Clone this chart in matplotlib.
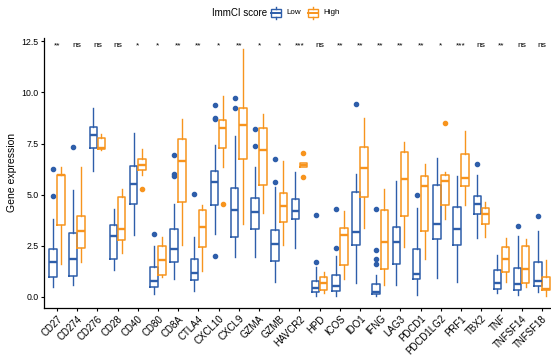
import matplotlib
matplotlib.use("Agg")
import matplotlib.pyplot as plt
from matplotlib.patches import Rectangle
from matplotlib.lines import Line2D

plt.rcParams['font.family'] = ['Liberation Sans', 'DejaVu Sans']

genes = ['CD27', 'CD274', 'CD276', 'CD28', 'CD40', 'CD80', 'CD8A', 'CTLA4',
         'CXCL10', 'CXCL9', 'GZMA', 'GZMB', 'HAVCR2', 'HPD', 'ICOS', 'IDO1',
         'IFNG', 'LAG3', 'PDCD1', 'PDCD1LG2', 'PRF1', 'TBX2', 'TNF',
         'TNFSF14', 'TNFSF18']
signif = ['**', 'ns', 'ns', 'ns', '*', '*', '**', '**', '*', '**', '*', '*',
          '***', 'ns', '**', '**', '**', '**', '**', '*', '***', 'ns', '**',
          'ns', 'ns']

# Low group: q1, median, q3, whisker low, whisker high
low_q1 = [0.97, 1.02, 7.26, 1.82, 4.56, 0.45, 1.70, 0.80, 4.51, 2.93, 3.32, 1.75, 3.78,
          0.24, 0.27, 2.55, 0.12, 1.62, 0.85, 2.80, 2.55, 4.04, 0.35, 0.32, 0.51]
low_med = [1.67, 1.82, 7.91, 2.98, 5.51, 0.77, 2.32, 1.16, 5.59, 4.24, 4.14, 2.60, 4.20,
           0.43, 0.53, 3.17, 0.22, 2.65, 1.13, 3.55, 3.30, 4.53, 0.65, 0.61, 0.78]
low_q3 = [2.32, 3.13, 8.32, 3.50, 6.39, 1.43, 3.30, 1.82, 6.16, 5.33, 4.81, 3.26, 4.76,
          0.78, 1.05, 5.10, 0.60, 3.42, 2.32, 5.49, 4.40, 4.92, 1.30, 1.38, 1.71]
low_lo = [0.48, 0.56, 6.16, 1.30, 3.04, 0.12, 0.84, 0.28, 3.09, 1.95, 1.95, 0.72, 2.36,
          0.04, 0.04, 0.65, 0.02, 0.56, 0.07, 0.89, 0.69, 2.85, 0.16, 0.07, 0.24]
low_hi = [3.78, 5.22, 9.25, 4.28, 8.03, 2.49, 4.56, 2.93, 7.42, 7.88, 6.36, 5.38, 6.11,
          1.43, 2.00, 6.03, 1.05, 5.66, 4.32, 6.80, 5.92, 5.95, 2.03, 2.96, 3.20]
low_out = [[4.94, 6.26], [7.34], [], [], [], [3.06], [5.92, 6.03, 6.93], [5.05],
           [1.98, 8.68, 8.75, 9.40], [9.25, 9.74], [7.37, 8.21], [5.59, 6.74], [],
           [1.70, 3.99], [2.36, 4.27], [9.42], [1.62, 1.82, 2.28, 4.27], [], [4.97],
           [], [], [6.49], [], [3.47], [3.96]]

# High group
high_q1 = [3.53, 2.36, 7.23, 2.77, 6.20, 1.05, 4.61, 2.41, 7.26, 6.74, 5.46, 3.63, 6.36,
           0.32, 1.54, 4.89, 1.34, 3.94, 3.21, 4.48, 5.41, 3.55, 1.19, 0.68, 0.30]
high_med = [5.95, 3.21, 7.26, 3.30, 6.46, 1.79, 6.64, 3.39, 8.24, 8.40, 7.16, 4.43, 6.46,
            0.65, 3.01, 6.31, 2.68, 5.76, 5.41, 5.66, 5.79, 4.04, 1.84, 1.35, 0.37]
high_q3 = [5.98, 3.96, 7.78, 4.89, 6.72, 2.49, 7.72, 4.24, 8.65, 9.22, 8.27, 5.09, 6.56,
           0.97, 3.37, 7.34, 4.24, 7.06, 5.92, 5.95, 6.97, 4.35, 2.44, 2.49, 0.94]
high_lo = [1.59, 1.67, 7.20, 2.14, 5.95, 0.97, 2.55, 1.26, 6.36, 3.55, 4.11, 2.55, 6.36,
           0.19, 0.84, 3.37, 0.56, 2.41, 1.83, 3.78, 4.48, 2.90, 0.73, 0.48, 0.05]
high_hi = [6.33, 6.33, 7.95, 5.25, 7.21, 2.93, 8.68, 4.48, 9.84, 12.13, 8.94, 6.65, 6.56,
           1.18, 4.19, 8.76, 5.25, 7.59, 6.49, 6.08, 8.11, 4.64, 2.85, 2.80, 1.78]
high_out = [[], [], [], [], [5.28], [], [], [], [4.56], [], [], [], [5.87, 7.05],
            [], [], [], [], [], [], [8.49], [], [], [], [], []]

c_low = '#2E5EAA'
c_high = '#F7941E'


def make_stats(q1, med, q3, lo, hi, out):
    return [dict(q1=a, med=b, q3=c, whislo=d, whishi=e, fliers=f)
            for a, b, c, d, e, f in zip(q1, med, q3, lo, hi, out)]


def draw_group(ax, stats, pos, color):
    ax.bxp(stats, positions=pos, widths=0.37, manage_ticks=False,
           showcaps=False, patch_artist=False,
           boxprops=dict(color=color, linewidth=1.1),
           whiskerprops=dict(color=color, linewidth=1.0),
           medianprops=dict(color=color, linewidth=1.7),
           flierprops=dict(marker='o', markersize=3.0, markerfacecolor=color,
                           markeredgecolor=color, linestyle='none'))


fig = plt.figure(figsize=(5.51, 3.63), dpi=100)
ax = fig.add_axes([44 / 551, 1 - 308 / 363, 1 - 44 / 551, (308 - 38) / 363])

x = list(range(len(genes)))
draw_group(ax, make_stats(low_q1, low_med, low_q3, low_lo, low_hi, low_out),
           [i - 0.2 for i in x], c_low)
draw_group(ax, make_stats(high_q1, high_med, high_q3, high_lo, high_hi, high_out),
           [i + 0.2 for i in x], c_high)

for i, s in enumerate(signif):
    ax.text(i, 12.22, s, ha='center', va='baseline', fontsize=6)

ax.set_xlim(-0.64, 24.45)
ax.set_ylim(-0.56, 12.67)
ax.set_xticks(x)
ax.set_xticklabels(genes, rotation=45, ha='right', rotation_mode='anchor', fontsize=7)
ax.set_yticks([0, 2.5, 5, 7.5, 10, 12.5])
ax.set_yticklabels(['0.0', '2.5', '5.0', '7.5', '10.0', '12.5'], fontsize=6.3)
ax.set_ylabel('Gene expression', fontsize=7.5, labelpad=3)
ax.tick_params(length=2.5, width=0.8, pad=1.5)
for side in ['top', 'right']:
    ax.spines[side].set_visible(False)
for side in ['left', 'bottom']:
    ax.spines[side].set_linewidth(0.9)

# legend drawn at the top
W, H = 551.0, 363.0
fig.text(267 / W, 1 - 13 / H, 'ImmCI score', ha='right', va='center', fontsize=7)
for x0, col, lab in [(271, c_low, 'Low'), (308, c_high, 'High')]:
    fig.add_artist(Rectangle((x0 / W, 1 - 17 / H), 10 / W, 8 / H, fill=False,
                             edgecolor=col, linewidth=1.0, transform=fig.transFigure))
    fig.add_artist(Line2D([x0 / W, (x0 + 10) / W], [1 - 13 / H, 1 - 13 / H],
                          color=col, linewidth=1.4, transform=fig.transFigure))
    fig.add_artist(Line2D([(x0 + 5) / W] * 2, [1 - 7 / H, 1 - 9 / H],
                          color=col, linewidth=1.0, transform=fig.transFigure))
    fig.add_artist(Line2D([(x0 + 5) / W] * 2, [1 - 17 / H, 1 - 19 / H],
                          color=col, linewidth=1.0, transform=fig.transFigure))
    fig.text((x0 + 15) / W, 1 - 13 / H, lab, ha='left', va='center', fontsize=5.8)

fig.savefig('out.png', dpi=100)
